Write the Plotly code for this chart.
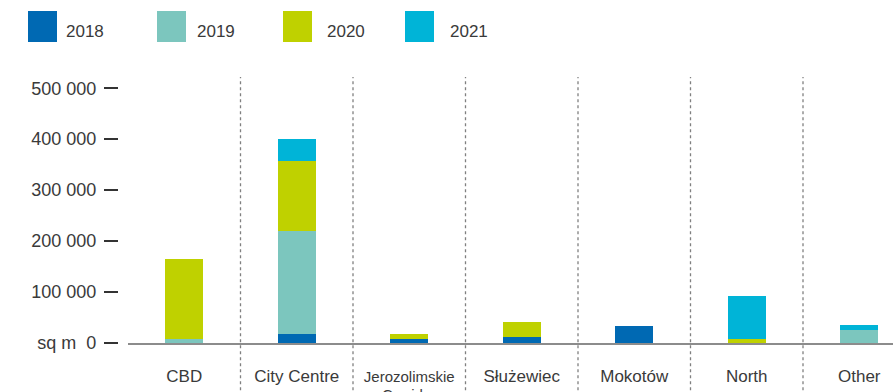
import plotly.graph_objects as go

# Office supply by zone (sq m), stacked by year
zones = ["CBD", "City Centre", "Jerozolimskie Corridor", "Służewiec", "Mokotów", "North", "Other"]
tick_labels = [
    "CBD",
    "City Centre",
    "<span style='font-size:15px'>Jerozolimskie</span>",
    "Służewiec",
    "Mokotów",
    "North",
    "Other",
]
second_line = {2: "Corridor"}
years = ["2018", "2019", "2020", "2021"]
supply_2018 = [0, 17700, 7300, 11200, 32800, 0, 0]
supply_2019 = [7300, 201700, 0, 0, 0, 0, 26000]
supply_2020 = [157000, 137600, 9700, 29500, 0, 8500, 0]
supply_2021 = [0, 43000, 0, 0, 0, 84500, 10000]
y_ticks = [0, 100000, 200000, 300000, 400000, 500000]
y_tick_text = ["sq m\u00a0\u00a00", "100 000", "200 000", "300 000", "400 000", "500 000"]

colors = ["#0069B3", "#7CC6BE", "#BFD100", "#00B4D7"]
series = [supply_2018, supply_2019, supply_2020, supply_2021]

W, H = 893, 392
TEXT = "#3a3a3a"
FONT = "Liberation Sans, Arial, sans-serif"

fig = go.Figure()
x_idx = list(range(len(zones)))
for name, vals, col in zip(years, series, colors):
    fig.add_trace(go.Bar(
        x=x_idx, y=vals, name=name, marker=dict(color=col, line=dict(width=0)),
        width=0.334, showlegend=False,
    ))

# dotted separators between zones
shapes = []
for i in range(len(zones)):
    shapes.append(dict(
        type="line", xref="x", yref="paper", x0=i + 0.5, x1=i + 0.5, y0=-0.2, y1=1.0,
        line=dict(color="#808080", width=1.3, dash="dot"), layer="below",
    ))

# legend: large colour swatches with labels
top_px, bottom_px = 77, 49
plot_h = H - top_px - bottom_px


def py(pix):
    return (H - bottom_px - pix) / plot_h


swatch_x = [28, 157, 283, 405]
label_x = [64, 195, 325, 448]
annotations = []
for name, col, sx, lx in zip(years, colors, swatch_x, label_x):
    shapes.append(dict(
        type="rect", xref="paper", yref="paper",
        x0=sx / W, x1=(sx + 29) / W, y0=py(42), y1=py(11),
        fillcolor=col, line=dict(width=0),
    ))
    annotations.append(dict(
        text=name, xref="paper", yref="paper", x=lx / W, y=py(32),
        xanchor="left", yanchor="middle", showarrow=False,
        font=dict(size=17, color=TEXT, family=FONT),
    ))

# second line of the wrapped zone name, set tightly under the first
for i, txt in second_line.items():
    annotations.append(dict(
        text=txt, xref="x", yref="paper", x=i, y=py(384),
        xanchor="center", yanchor="top", showarrow=False,
        font=dict(size=15, color=TEXT, family=FONT),
    ))

fig.update_layout(
    width=W, height=H,
    margin=dict(l=0, r=0, t=top_px, b=bottom_px, autoexpand=False),
    paper_bgcolor="white", plot_bgcolor="white",
    barmode="stack",
    bargap=0,
    shapes=shapes,
    annotations=annotations,
    font=dict(family=FONT, color=TEXT),
    xaxis=dict(
        domain=[128 / W, 1], range=[-0.5, 6.30],
        tickmode="array", tickvals=x_idx, ticktext=tick_labels,
        tickfont=dict(size=17, color=TEXT, family=FONT),
        showgrid=False, zeroline=False, automargin=False,
        showline=True, linecolor="#8c8c8c", linewidth=1.5,
        ticks="", ticklabelstandoff=17,
    ),
    yaxis=dict(
        anchor="free", position=118 / W, range=[0, 522000],
        tickmode="array", tickvals=y_ticks, ticktext=y_tick_text,
        tickfont=dict(size=18, color=TEXT, family=FONT),
        ticks="outside", ticklen=14, tickwidth=1.5, tickcolor="#333333",
        showgrid=False, zeroline=False, showline=False, automargin=False,
        ticklabelstandoff=4,
    ),
)

fig.write_html("out.html")
